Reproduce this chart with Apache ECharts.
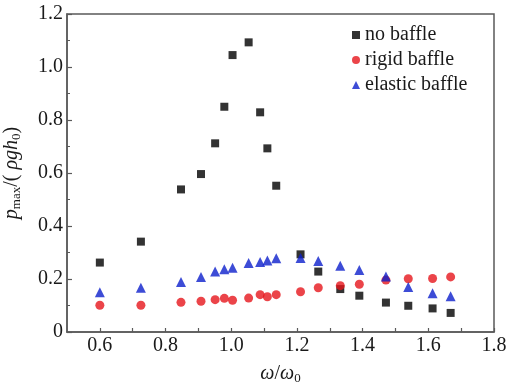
<!DOCTYPE html>
<html>
<head>
<meta charset="utf-8">
<script src="https://cdn.jsdelivr.net/npm/echarts@6/dist/echarts.min.js"></script>
<style>
  html, body { margin: 0; padding: 0; background: #fff; }
  #chart { width: 507px; height: 384px; }
</style>
</head>
<body>
<div id="chart"></div>
<script>
// omega / omega_0 values (shared by all three series)
const freqRatio = [0.6, 0.725, 0.847, 0.908, 0.951, 0.979, 1.004, 1.053, 1.088, 1.11, 1.137,
  1.211, 1.265, 1.332, 1.39, 1.471, 1.539, 1.613, 1.668]

// p_max / (rho g h_0)
const noBaffle = [0.262, 0.341, 0.538, 0.596, 0.712, 0.85, 1.045, 1.093, 0.829, 0.693, 0.552,
  0.293, 0.228, 0.162, 0.137, 0.111, 0.099, 0.089, 0.072]
const rigidBaffle = [0.101, 0.101, 0.112, 0.116, 0.122, 0.127, 0.12, 0.128, 0.141, 0.133, 0.141,
  0.152, 0.167, 0.175, 0.18, 0.196, 0.201, 0.202, 0.208]
const elasticBaffle = [0.15, 0.167, 0.189, 0.208, 0.228, 0.237, 0.242, 0.26, 0.264, 0.27, 0.278,
  0.279, 0.268, 0.25, 0.234, 0.209, 0.17, 0.146, 0.135]

const seriesNames = ['no baffle', 'rigid baffle', 'elastic baffle']
const xLabels = ['0.6', '0.8', '1.0', '1.2', '1.4', '1.6', '1.8']
const yLabels = ['0', '0.2', '0.4', '0.6', '0.8', '1.0', '1.2']

const serif = '"Liberation Serif", "Times New Roman", serif'
const axisColor = '#5a5a5a'
const textColor = '#1a1a1a'

const pairs = (ys) => freqRatio.map((x, i) => [x, ys[i]])

// shared axis look: frame lines, ticks pointing inward
const axisBase = {
  axisLine: { show: true, lineStyle: { color: axisColor, width: 1.5 } },
  axisTick: { show: true, inside: true, length: 5, lineStyle: { color: axisColor, width: 1.2 } },
  minorTick: { show: true, splitNumber: 2, length: 3, lineStyle: { color: axisColor, width: 1 } },
  splitLine: { show: false },
  axisLabel: { color: textColor, fontSize: 20, fontFamily: serif },
  nameLocation: 'middle',
}

const chart = echarts.init(document.getElementById('chart'), null, { renderer: 'canvas' })

chart.setOption({
  backgroundColor: '#fff',
  animation: false,
  grid: {
    left: 67, right: 13, top: 14, bottom: 52,
    containLabel: false,
    // keep the plot box fixed, labels may sit in the margins
    outerBoundsMode: 'none',
    show: true, borderColor: axisColor, borderWidth: 1.5,
  },
  xAxis: {
    ...axisBase,
    type: 'value',
    min: 0.5,
    max: 1.8,
    interval: 0.1,
    minorTick: { show: false },
    axisTick: { ...axisBase.axisTick, length: 4 },
    axisLabel: {
      ...axisBase.axisLabel,
      margin: 4,
      showMinLabel: false,
      formatter: (v) => {
        const s = (Math.round(v * 10) / 10).toFixed(1)
        return xLabels.includes(s) ? s : ''
      },
    },
    name: '{i|ω}{n|/}{i|ω}{sub|0}',
    nameGap: 31,
    nameTextStyle: {
      fontFamily: serif,
      fontSize: 20,
      color: textColor,
      rich: {
        i: { fontFamily: serif, fontSize: 20, fontStyle: 'italic', color: textColor },
        n: { fontFamily: serif, fontSize: 20, color: textColor },
        sub: { fontFamily: serif, fontSize: 13, color: textColor, padding: [9, 0, 0, 0] },
      },
    },
  },
  yAxis: {
    ...axisBase,
    type: 'value',
    min: 0,
    max: 1.2,
    interval: 0.2,
    axisLabel: {
      ...axisBase.axisLabel,
      margin: 4,
      formatter: (v) => yLabels[Math.round(v / 0.2)] ?? '',
    },
    name: '{i|p}{sub|max}{n|/( }{i|ρgh}{sub|0}{n|)}',
    nameGap: 44,
    nameRotate: 90,
    nameTextStyle: {
      fontFamily: serif,
      fontSize: 20,
      color: textColor,
      rich: {
        i: { fontFamily: serif, fontSize: 20, fontStyle: 'italic', color: textColor },
        n: { fontFamily: serif, fontSize: 20, color: textColor },
        sub: { fontFamily: serif, fontSize: 13, color: textColor, padding: [9, 0, 0, 0] },
      },
    },
  },
  legend: {
    data: seriesNames,
    orient: 'vertical',
    left: 347,
    top: 20,
    itemWidth: 8,
    itemHeight: 8,
    itemGap: 5,
    textStyle: { fontFamily: serif, fontSize: 20, color: textColor },
  },
  series: [
    {
      name: seriesNames[0], type: 'scatter', symbol: 'rect', symbolSize: 8,
      itemStyle: { color: '#000' }, data: pairs(noBaffle),
    },
    {
      name: seriesNames[1], type: 'scatter', symbol: 'circle', symbolSize: 9,
      itemStyle: { color: '#e6151b' }, data: pairs(rigidBaffle),
    },
    {
      name: seriesNames[2], type: 'scatter', symbol: 'triangle', symbolSize: 10,
      itemStyle: { color: '#0d1fcc' }, data: pairs(elasticBaffle),
    },
  ],
})
</script>
</body>
</html>
